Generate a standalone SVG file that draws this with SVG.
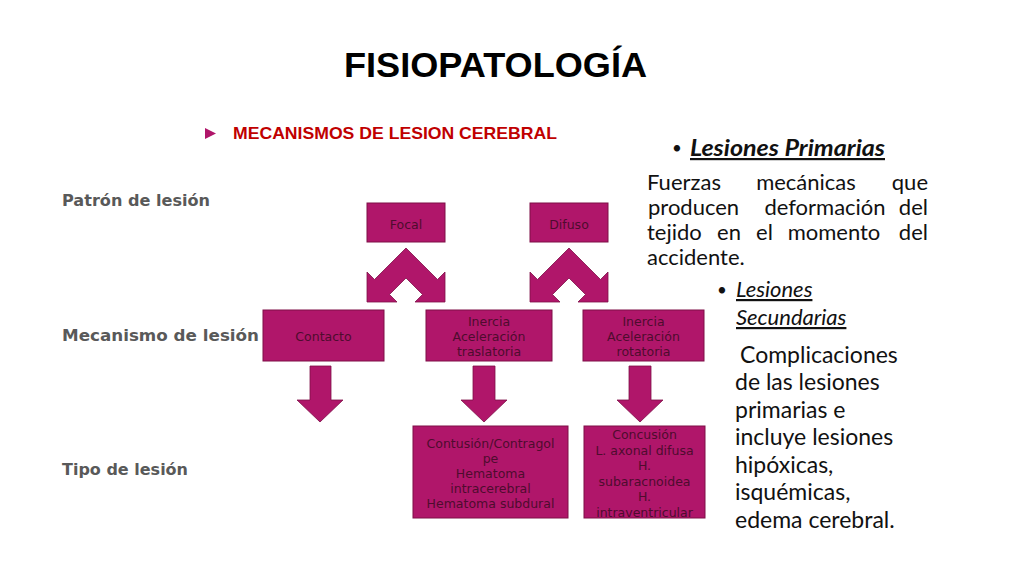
<svg xmlns="http://www.w3.org/2000/svg" width="1024" height="576" viewBox="0 0 1024 576">
<style>
.box{fill:#B0166A;stroke:#7E0F47;stroke-width:1}
.arr{fill:#B0166A;stroke:#7E0F47;stroke-width:0.8}
.bt{font-family:"DejaVu Sans",sans-serif;font-size:12.5px;fill:#4E0C2E;text-anchor:middle}
.lab{font-family:"DejaVu Sans",sans-serif;font-weight:bold;font-size:15.5px;fill:#595959}
.rt{font-family:Lato,"Open Sans",sans-serif;font-size:22px;fill:#111}
.rt2{font-family:Lato,"Open Sans",sans-serif;font-size:23px;fill:#111}
.bul{font-family:Lato,"Open Sans",sans-serif;font-size:17px;fill:#111}
</style>
<rect width="1024" height="576" fill="#fff"/>
<text x="344" y="77" font-family="Liberation Sans,Arial,sans-serif" font-weight="bold" font-size="35" textLength="303" lengthAdjust="spacingAndGlyphs" fill="#000">FISIOPATOLOGÍA</text>
<polygon points="205,128 216,133.5 205,139" fill="#B0166A"/>
<text x="233" y="139" font-family="Liberation Sans,Arial,sans-serif" font-weight="bold" font-size="16.5" textLength="324" lengthAdjust="spacingAndGlyphs" fill="#C00000">MECANISMOS DE LESION CEREBRAL</text>

<text class="lab" x="62" y="206" textLength="148" lengthAdjust="spacingAndGlyphs">Patrón de lesión</text>
<text class="lab" x="62" y="341" textLength="197" lengthAdjust="spacingAndGlyphs">Mecanismo de lesión</text>
<text class="lab" x="62" y="475" textLength="126" lengthAdjust="spacingAndGlyphs">Tipo de lesión</text>

<g id="connectors">
<polygon class="arr" points="406,248 437.5,279.5 445,272 445,302 415,302 422.5,294.5 406,278 389.5,294.5 397,302 367,302 367,272 374.5,279.5"/>
<polygon class="arr" points="569,248 600.5,279.5 608,272 608,302 578,302 585.5,294.5 569,278 552.5,294.5 560,302 530,302 530,272 537.5,279.5"/>
<polygon class="arr" points="310,366 331,366 331,400 343,400 320,422 297,400 310,400"/>
<polygon class="arr" points="473,366 495,366 495,400 507,400 484,422 461,400 473,400"/>
<polygon class="arr" points="629,366 651,366 651,400 663,400 640,422 617,400 629,400"/>
</g>

<g id="focal">
<rect class="box" x="367" y="203" width="78" height="39"/>
<text class="bt" x="406" y="228.5">Focal</text>
</g>
<g id="difuso">
<rect class="box" x="530" y="203" width="78" height="39"/>
<text class="bt" x="569" y="228.5">Difuso</text>
</g>
<g id="contacto">
<rect class="box" x="263" y="310" width="121" height="51"/>
<text class="bt" x="323.5" y="340.5">Contacto</text>
</g>
<g id="inercia-traslatoria">
<rect class="box" x="426" y="310" width="126" height="51"/>
<text class="bt" x="489" y="325.5">Inercia</text>
<text class="bt" x="489" y="340.5">Aceleración</text>
<text class="bt" x="489" y="355.5">traslatoria</text>
</g>
<g id="inercia-rotatoria">
<rect class="box" x="583" y="310" width="121" height="51"/>
<text class="bt" x="643.5" y="325.5">Inercia</text>
<text class="bt" x="643.5" y="340.5">Aceleración</text>
<text class="bt" x="643.5" y="355.5">rotatoria</text>
</g>
<g id="tipo-focal">
<rect class="box" x="413" y="426" width="155" height="92"/>
<text class="bt" x="490.5" y="448">Contusión/Contragol</text>
<text class="bt" x="490.5" y="463">pe</text>
<text class="bt" x="490.5" y="478">Hematoma</text>
<text class="bt" x="490.5" y="493">intracerebral</text>
<text class="bt" x="490.5" y="508">Hematoma subdural</text>
</g>
<g id="tipo-difuso">
<rect class="box" x="584" y="426" width="121" height="92"/>
<text class="bt" x="644.5" y="439">Concusión</text>
<text class="bt" x="644.5" y="454.5">L. axonal difusa</text>
<text class="bt" x="644.5" y="470">H.</text>
<text class="bt" x="644.5" y="485.5">subaracnoidea</text>
<text class="bt" x="644.5" y="501">H.</text>
<text class="bt" x="644.5" y="516.5">intraventricular</text>
</g>

<g id="primarias">
<text class="bul" x="672" y="154">•</text>
<text class="rt" x="690" y="156" font-weight="bold" font-style="italic" text-decoration="underline" textLength="195" lengthAdjust="spacingAndGlyphs">Lesiones Primarias</text>
<text class="rt" x="647" y="190">Fuerzas</text>
<text class="rt" x="806" y="190" text-anchor="middle">mecánicas</text>
<text class="rt" x="928" y="190" text-anchor="end">que</text>
<text class="rt" x="648" y="215">producen</text>
<text class="rt" x="825" y="215" text-anchor="middle">deformación</text>
<text class="rt" x="928" y="215" text-anchor="end">del</text>
<text class="rt" x="647" y="240">tejido</text>
<text class="rt" x="729" y="240" text-anchor="middle">en</text>
<text class="rt" x="764.5" y="240" text-anchor="middle">el</text>
<text class="rt" x="834" y="240" text-anchor="middle">momento</text>
<text class="rt" x="928" y="240" text-anchor="end">del</text>
<text class="rt" x="647" y="265">accidente.</text>
</g>
<g id="secundarias">
<text class="bul" x="717" y="296">•</text>
<text class="rt" x="736" y="297" font-style="italic" text-decoration="underline">Lesiones</text>
<text class="rt" x="736" y="325" font-style="italic" text-decoration="underline">Secundarias</text>
<text class="rt2" x="740" y="363">Complicaciones</text>
<text class="rt2" x="735" y="390">de las lesiones</text>
<text class="rt2" x="735" y="418">primarias e</text>
<text class="rt2" x="735" y="445">incluye lesiones</text>
<text class="rt2" x="735" y="473">hipóxicas,</text>
<text class="rt2" x="735" y="500">isquémicas,</text>
<text class="rt2" x="735" y="528">edema cerebral.</text>
</g>
</svg>
